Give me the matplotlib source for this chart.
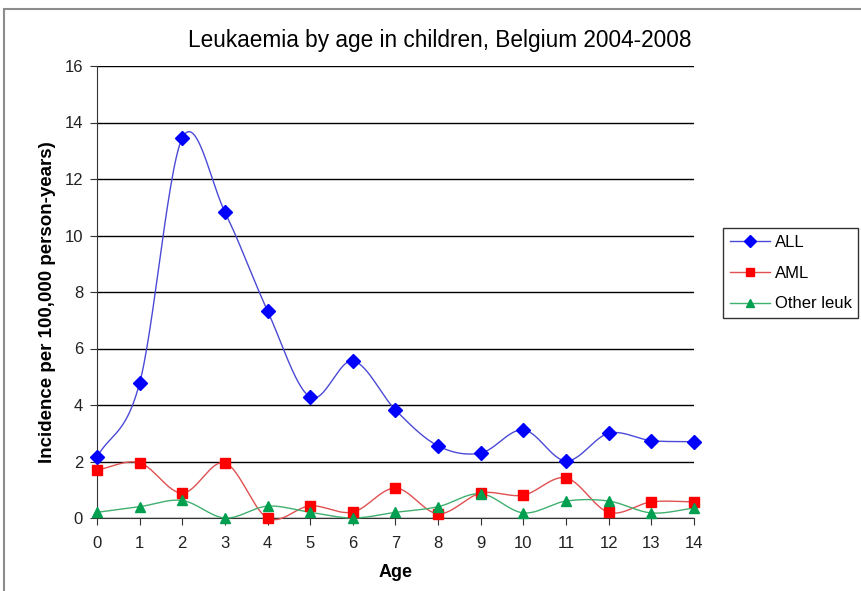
import numpy as np
import matplotlib
matplotlib.use("Agg")
import matplotlib.pyplot as plt
from matplotlib.patches import Rectangle
from matplotlib.lines import Line2D

plt.rcParams['font.family'] = ['Liberation Sans', 'DejaVu Sans']

ages = list(range(15))
all_vals = [2.16, 4.78, 13.45, 10.83, 7.33, 4.28, 5.56, 3.82, 2.55, 2.30, 3.12, 2.02, 3.00, 2.74, 2.70]
aml_vals = [1.70, 1.95, 0.88, 1.95, 0.00, 0.43, 0.21, 1.06, 0.15, 0.88, 0.81, 1.42, 0.20, 0.57, 0.57]
oth_vals = [0.20, 0.40, 0.62, 0.00, 0.42, 0.20, 0.00, 0.20, 0.40, 0.86, 0.18, 0.60, 0.60, 0.18, 0.35]
labels = ["ALL", "AML", "Other leuk"]
title = "Leukaemia by age in children, Belgium 2004-2008"


def smooth(x, y, n=30):
    x = np.asarray(x, float); y = np.asarray(y, float)
    px = np.concatenate([[2 * x[0] - x[1]], x, [2 * x[-1] - x[-2]]])
    py = np.concatenate([[2 * y[0] - y[1]], y, [2 * y[-1] - y[-2]]])
    xs, ys = [], []
    t = np.linspace(0, 1, n)
    for i in range(1, len(px) - 2):
        p0, p1, p2, p3 = (np.array([px[j], py[j]]) for j in (i - 1, i, i + 1, i + 2))
        c1 = p1 + (p2 - p0) / 6.0
        c2 = p2 - (p3 - p1) / 6.0
        b = ((1 - t) ** 3)[:, None] * p1 + (3 * (1 - t) ** 2 * t)[:, None] * c1 + \
            (3 * (1 - t) * t ** 2)[:, None] * c2 + (t ** 3)[:, None] * p2
        xs.extend(b[:, 0]); ys.extend(b[:, 1])
    return np.array(xs), np.array(ys)


fig = plt.figure(figsize=(8.61, 5.91), dpi=100)
fig.patches.append(Rectangle((4 / 861, -0.1), 1.2, (591 - 9) / 591 + 0.1, transform=fig.transFigure,
                             fill=False, edgecolor='#8c8c8c', linewidth=1.5))

L, R, T, B = 97, 694, 66, 518
ax = fig.add_axes([L / 861, 1 - B / 591, (R - L) / 861, (B - T) / 591])

series = [
    (all_vals, '#0000ff', '#4a4ad6', 'D', 7.5),
    (aml_vals, '#ff0000', '#e05050', 's', 7.5),
    (oth_vals, '#00a050', '#40b070', '^', 7.5),
]
handles = []
for vals, mc, lc, mk, ms in series:
    sx, sy = smooth(ages, vals)
    ax.plot(sx, sy, color=lc, linewidth=1.0, zorder=3, clip_on=False)
    ax.plot(ages, vals, linestyle='none', marker=mk, color=mc, markersize=ms, zorder=4, clip_on=False)
    handles.append(Line2D([0], [0], color=lc, marker=mk, markerfacecolor=mc, markeredgecolor=mc,
                          markersize=6, linewidth=1.0))

ax.set_xlim(0, 14)
ax.set_ylim(0, 16)
ax.set_xticks(ages)
ax.set_yticks(range(0, 17, 2))
ax.yaxis.grid(True, color='black', linewidth=1.0)
ax.set_axisbelow(True)
for s in ['top', 'right']:
    ax.spines[s].set_visible(False)
ax.spines['left'].set_color('#333333')
ax.spines['bottom'].set_color('#333333')
ax.tick_params(axis='both', direction='out', length=5, labelsize=12, colors='#333333', labelcolor='#222222')
ax.tick_params(axis='x', pad=8)
ax.tick_params(axis='y', pad=5)
ax.set_xlabel("Age", fontsize=13, fontweight='bold', labelpad=9)
ax.set_ylabel("Incidence per 100,000 person-years)", fontsize=13.5, fontweight='bold')
ax.yaxis.set_label_coords((56 - L) / (R - L), (B - 302) / (B - T))
fig.text(440 / 861, 1 - 40 / 591, title, ha='center', va='center', fontsize=16.3)

leg = fig.legend(handles, labels, loc='upper left', bbox_to_anchor=(723 / 861, 1 - 228 / 591),
                 frameon=True, fancybox=False, edgecolor='black', fontsize=12,
                 handlelength=2.4, handletextpad=0.3, labelspacing=0.95, borderpad=0.4,
                 borderaxespad=0)
leg.get_frame().set_linewidth(1.0)

fig.savefig("out.png", dpi=100)
